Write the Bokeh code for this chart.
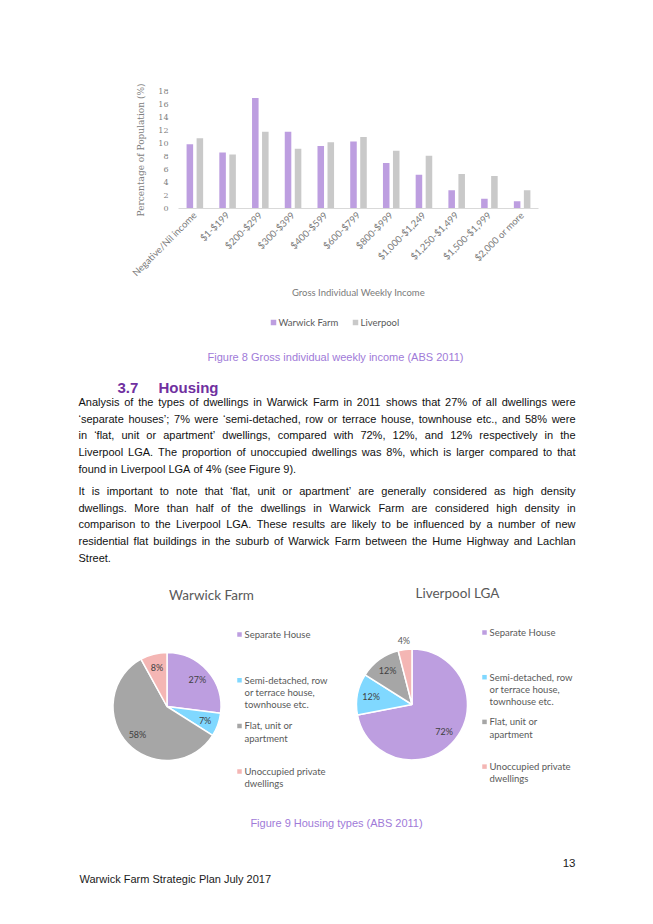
import math
from bokeh.plotting import figure
from bokeh.models import FactorRange, Range1d, FixedTicker, ColumnDataSource
from bokeh.transform import dodge
from bokeh.embed import file_html
from bokeh.resources import INLINE
from bokeh.core.properties import value

# ---------------- data ----------------
income_bands = ["Negative/Nil income", "$1-$199", "$200-$299", "$300-$399", "$400-$599",
                "$600-$799", "$800-$999", "$1,000-$1,249", "$1,250-$1,499",
                "$1,500-$1,999", "$2,000 or more"]
warwick_farm_pct = [9.9, 8.6, 17.0, 11.8, 9.6, 10.3, 7.0, 5.2, 2.8, 1.5, 1.1]
liverpool_pct = [10.8, 8.3, 11.8, 9.2, 10.2, 11.0, 8.9, 8.1, 5.3, 5.0, 2.8]
y_ticks = [0, 2, 4, 6, 8, 10, 12, 14, 16, 18]
bar_series = ["Warwick Farm", "Liverpool"]
bar_x_title = "Gross Individual Weekly Income"
bar_y_title = "Percentage of Population (%)"

dwelling_types = ["Separate House",
                  "Semi-detached, row or terrace house, townhouse etc.",
                  "Flat, unit or apartment",
                  "Unoccupied private dwellings"]
dwelling_legend_lines = [["Separate House"],
                         ["Semi-detached, row", "or terrace house,", "townhouse etc."],
                         ["Flat, unit or", "apartment"],
                         ["Unoccupied private", "dwellings"]]
warwick_dwellings_pct = [27, 7, 58, 8]
liverpool_dwellings_pct = [72, 12, 12, 4]
pie_titles = ["Warwick Farm", "Liverpool LGA"]

caption_8 = "Figure 8 Gross individual weekly income (ABS 2011)"
caption_9 = "Figure 9 Housing types (ABS 2011)"
heading_number = "3.7"
heading_text = "Housing"
paragraph_1 = [
    "Analysis of the types of dwellings in Warwick Farm in 2011 shows that 27% of all dwellings were",
    "\u2018separate houses\u2019; 7% were \u2018semi-detached, row or terrace house, townhouse etc., and 58% were",
    "in \u2018flat, unit or apartment\u2019 dwellings, compared with 72%, 12%, and 12% respectively in the",
    "Liverpool LGA. The proportion of unoccupied dwellings was 8%, which is larger compared to that",
    "found in Liverpool LGA of 4% (see Figure 9).",
]
paragraph_2 = [
    "It is important to note that \u2018flat, unit or apartment\u2019 are generally considered as high density",
    "dwellings. More than half of the dwellings in Warwick Farm are considered high density in",
    "comparison to the Liverpool LGA. These results are likely to be influenced by a number of new",
    "residential flat buildings in the suburb of Warwick Farm between the Hume Highway and Lachlan",
    "Street.",
]
footer_text = "Warwick Farm Strategic Plan July 2017"
page_number = "13"

# ---------------- styles ----------------
PURPLE = "#bd9ee0"
BAR_GREY = "#c9c9c9"
PIE_COLORS = ["#bd9ee0", "#80d8ff", "#a6a6a6", "#f4b6b4"]
CAPTION_COLOR = "#a07ad8"
HEADING_COLOR = "#7030a0"
CHART_TEXT = "#595959"
PAGE_W = 653
PAGE_H = 924
BAR_H = 312
REST_H = PAGE_H - BAR_H

# ---------------- bar chart ----------------
p = figure(width=PAGE_W, height=BAR_H, x_range=FactorRange(factors=income_bands),
           y_range=Range1d(0, 18), output_backend="svg", toolbar_location=None,
           min_border_left=178, min_border_right=115, min_border_top=91,
           min_border_bottom=BAR_H - 91 - 117)
src = ColumnDataSource(dict(band=income_bands, wf=warwick_farm_pct, lv=liverpool_pct))
p.vbar(x=dodge("band", -0.153, range=p.x_range), top="wf", width=0.2, source=src,
       fill_color=PURPLE, line_color=None)
p.vbar(x=dodge("band", 0.153, range=p.x_range), top="lv", width=0.2, source=src,
       fill_color=BAR_GREY, line_color=None)
p.xgrid.grid_line_color = None
p.ygrid.grid_line_color = None
p.outline_line_color = None
p.background_fill_color = "white"
p.border_fill_color = "white"

p.yaxis.ticker = FixedTicker(ticks=y_ticks)
p.yaxis.axis_line_color = None
p.yaxis.major_tick_line_color = None
p.yaxis.major_tick_out = 0
p.yaxis.minor_tick_line_color = None
p.yaxis.major_label_text_font = "DejaVu Serif"
p.yaxis.major_label_text_font_size = "8px"
p.yaxis.major_label_text_color = "#808080"
p.yaxis.major_label_standoff = 10
p.yaxis.axis_label = bar_y_title
p.yaxis.axis_label_text_font = "DejaVu Serif"
p.yaxis.axis_label_text_font_size = "9px"
p.yaxis.axis_label_text_font_style = "normal"
p.yaxis.axis_label_text_color = "#808080"
p.yaxis.axis_label_standoff = 9

p.xaxis.axis_line_color = "#d9d9d9"
p.xaxis.axis_line_width = 1
p.xaxis.major_tick_line_color = None
p.xaxis.major_tick_out = 0
p.xaxis.minor_tick_line_color = None
p.xaxis.major_label_orientation = math.pi / 4
p.xaxis.major_label_text_font = "Lato"
p.xaxis.major_label_text_font_size = "9.5px"
p.xaxis.major_label_text_color = "#7a7a7a"
p.xaxis.major_label_standoff = 5
p.xaxis.axis_label = bar_x_title
p.xaxis.axis_label_text_font = "Lato"
p.xaxis.axis_label_text_font_size = "9.5px"
p.xaxis.axis_label_text_font_style = "normal"
p.xaxis.axis_label_text_color = "#7a7a7a"
p.xaxis.axis_label_standoff = 2

# ---------------- rest of page (legend, text, pies) ----------------
# coordinates: x = page px, y = -page px
q = figure(width=PAGE_W, height=REST_H, x_range=Range1d(0, PAGE_W),
           y_range=Range1d(-PAGE_H, -BAR_H), output_backend="svg",
           toolbar_location=None, x_axis_type=None, y_axis_type=None, min_border=0)
q.outline_line_color = None
q.background_fill_color = "white"
q.border_fill_color = "white"
for g in q.grid:
    g.visible = False

# legend of the bar chart
LEG_Y = 322
leg_key_x = [273, 355]
q.scatter(x=leg_key_x, y=[-LEG_Y] * 2, marker="square", size=5.5,
          fill_color=[PURPLE, BAR_GREY], line_color=None)
q.text(x=[k + 5 for k in leg_key_x], y=[-LEG_Y] * 2, text=bar_series,
       text_font=value("Lato"), text_font_size="9.5px", text_align="left",
       text_baseline="middle", text_color=CHART_TEXT)

ARIAL = {' ': 278, '%': 889, '(': 333, ')': 333, ',': 278, '-': 333, '.': 278, ';': 278,
         ':': 278, '\u2018': 222, '\u2019': 222, "'": 191,
         'A': 667, 'B': 667, 'C': 722, 'D': 722, 'E': 667, 'F': 611, 'G': 778, 'H': 722,
         'I': 278, 'J': 500, 'K': 667, 'L': 556, 'M': 833, 'N': 722, 'O': 778, 'P': 667,
         'Q': 778, 'R': 722, 'S': 667, 'T': 611, 'U': 722, 'V': 667, 'W': 944, 'X': 667,
         'Y': 667, 'Z': 611,
         'a': 556, 'b': 556, 'c': 500, 'd': 556, 'e': 556, 'f': 278, 'g': 556, 'h': 556,
         'i': 222, 'j': 222, 'k': 500, 'l': 222, 'm': 833, 'n': 556, 'o': 556, 'p': 556,
         'q': 556, 'r': 333, 's': 500, 't': 278, 'u': 556, 'v': 500, 'w': 722, 'x': 500,
         'y': 500, 'z': 500}


def text_width(s, fs):
    return sum(ARIAL.get(ch, 556) for ch in s) * fs / 1000.0


BODY_FS = 11
BODY_LEFT = 78
BODY_RIGHT = 575
LINE_STEP = 16.7


def layout_paragraph(lines, y0):
    xs, ys, ws = [], [], []
    for i, line in enumerate(lines):
        words = line.split(" ")
        widths = [text_width(w, BODY_FS) for w in words]
        last = (i == len(lines) - 1)
        if last or len(words) == 1:
            gap = ARIAL[' '] * BODY_FS / 1000.0
        else:
            gap = (BODY_RIGHT - BODY_LEFT - sum(widths)) / (len(words) - 1)
        x = BODY_LEFT
        for w, wd in zip(words, widths):
            xs.append(x)
            ys.append(-(y0 + i * LINE_STEP))
            ws.append(w)
            x += wd + gap
    return xs, ys, ws


bx1, by1, bw1 = layout_paragraph(paragraph_1, 401.5)
bx2, by2, bw2 = layout_paragraph(paragraph_2, 490.5)
q.text(x=bx1 + bx2, y=by1 + by2, text=bw1 + bw2, text_font=value("Liberation Sans"),
       text_font_size=f"{BODY_FS}px", text_baseline="middle", text_align="left",
       text_color="#111111")

# captions
q.text(x=[335, 336], y=[-356, -822], text=[caption_8, caption_9],
       text_font=value("Liberation Sans"), text_font_size="11px",
       text_baseline="middle", text_align="center", text_color=CAPTION_COLOR)

# heading
q.text(x=[117, 158], y=[-387, -387], text=[heading_number, heading_text],
       text_font=value("Liberation Sans"), text_font_size="15px", text_font_style="bold",
       text_baseline="middle", text_align="left", text_color=HEADING_COLOR)

# footer
q.text(x=[79], y=[-878], text=[footer_text], text_font=value("Liberation Sans"),
       text_font_size="11px", text_baseline="middle", text_align="left",
       text_color="#1a1a1a")
q.text(x=[575], y=[-862], text=[page_number], text_font=value("Liberation Sans"),
       text_font_size="11.5px", text_baseline="middle", text_align="right",
       text_color="#1a1a1a")


def draw_pie(vals, cx, cy, r, title, title_xy, leg_x, leg_top, leg_step):
    total = float(sum(vals))
    starts, ends, lx, ly = [], [], [], []
    cum = 0.0
    for v in vals:
        a0 = math.pi / 2 - 2 * math.pi * cum / total
        cum += v
        a1 = math.pi / 2 - 2 * math.pi * cum / total
        starts.append(a0)
        ends.append(a1)
        mid = (a0 + a1) / 2
        k = 0.75 if v / total >= 0.05 else 1.17
        lx.append(cx + k * r * math.cos(mid))
        ly.append(-cy + k * r * math.sin(mid))
    s = ColumnDataSource(dict(start=starts, end=ends, color=PIE_COLORS,
                              lx=lx, ly=ly, lab=[f"{v}%" for v in vals],
                              lc=["#404040" if v / total >= 0.05 else CHART_TEXT for v in vals]))
    q.wedge(x=cx, y=-cy, radius=r, start_angle="start", end_angle="end",
            direction="clock", fill_color="color", line_color="white", line_width=1.5,
            source=s)
    q.text(x="lx", y="ly", text="lab", source=s, text_font=value("Lato"),
           text_font_size="9px", text_align="center", text_baseline="middle",
           text_color="lc")
    q.text(x=[title_xy[0]], y=[-title_xy[1]], text=[title], text_font=value("Lato"),
           text_font_size="13.5px", text_align="center", text_baseline="middle",
           text_color=CHART_TEXT)
    mx, my, tx, ty, tt = [], [], [], [], []
    for i, lines in enumerate(dwelling_legend_lines):
        y0 = leg_top + i * leg_step
        mx.append(leg_x)
        my.append(-y0)
        for j, ln in enumerate(lines):
            tx.append(leg_x + 5)
            ty.append(-(y0 + j * 12.3))
            tt.append(ln)
    q.scatter(x=mx, y=my, marker="square", size=4.5, fill_color=PIE_COLORS,
              line_color=None)
    q.text(x=tx, y=ty, text=tt, text_font=value("Lato"), text_font_size="9.5px",
           text_align="left", text_baseline="middle", text_color=CHART_TEXT)


draw_pie(warwick_dwellings_pct, 166.5, 706, 54, pie_titles[0], (211, 594), 239, 634, 45.7)
draw_pie(liverpool_dwellings_pct, 411.5, 704, 55.5, pie_titles[1], (457, 592), 484, 632, 44.7)

open("out.html", "w").write(file_html([p, q], INLINE))
